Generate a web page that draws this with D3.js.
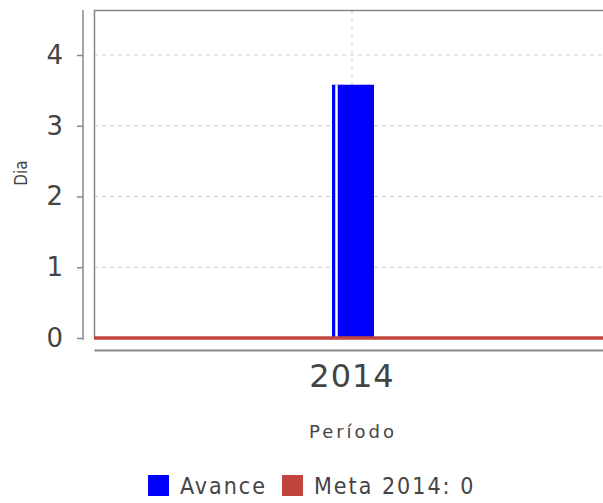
<!DOCTYPE html>
<html>
<head>
<meta charset="utf-8">
<script src="https://cdn.jsdelivr.net/npm/d3@7"></script>
<style>
  body { margin: 0; background: #fff; overflow: hidden; }
  svg { display: block; }
  text { font-family: "DejaVu Sans", sans-serif; fill: #444; }
  .cond { font-family: "DejaVu Sans Condensed", "DejaVu Sans", sans-serif; font-stretch: condensed; }
</style>
</head>
<body>
<div id="chart"></div>
<script>
// Data
var categories = ["2014"];
var avance = [3.58];
var meta = [0];
var yTicks = [0, 1, 2, 3, 4];
var legendLabels = ["Avance", "Meta 2014: 0"];
var colors = ["#0000ff", "#c0453f"];

var svgWidth = 603, svgHeight = 503;
var margin = { top: 10, left: 94, right: -7, bottom: 165 };
var width = svgWidth - margin.left - margin.right;
var height = svgHeight - margin.top - margin.bottom;

var svg = d3.select("#chart").append("svg")
  .attr("width", svgWidth)
  .attr("height", svgHeight);

var g = svg.append("g")
  .attr("transform", `translate(${margin.left}, ${margin.top})`);

var x = d3.scaleBand().domain(categories).range([0, width]);
var y = d3.scaleLinear().domain([0, 4.636]).range([height, 0]);

// gridlines
g.selectAll(".grid")
  .data(yTicks.slice(1))
  .enter().append("line")
  .attr("x1", 0).attr("x2", width)
  .attr("y1", d => y(d)).attr("y2", d => y(d))
  .attr("stroke", "#ccc").attr("stroke-dasharray", "4,4");

g.selectAll(".vgrid")
  .data(categories)
  .enter().append("line")
  .attr("x1", d => x(d) + x.bandwidth() / 2).attr("x2", d => x(d) + x.bandwidth() / 2)
  .attr("y1", 0).attr("y2", height)
  .attr("stroke", "#ccc").attr("stroke-dasharray", "4,4");

// plot border
g.append("line").attr("x1", 0).attr("x2", width).attr("y1", 0.5).attr("y2", 0.5)
  .attr("stroke", "#888").attr("stroke-width", 1.5);
g.append("line").attr("x1", 0.5).attr("x2", 0.5).attr("y1", 0).attr("y2", height)
  .attr("stroke", "#888").attr("stroke-width", 1.5);

// bars
var barW = 42;
g.selectAll(".bar")
  .data(avance)
  .enter().append("rect")
  .attr("x", (d, i) => x(categories[i]) + x.bandwidth() / 2 - 20)
  .attr("y", d => y(d))
  .attr("width", barW)
  .attr("height", d => y(0) - y(d))
  .attr("fill", colors[0]);

g.selectAll(".barGap")
  .data(avance)
  .enter().append("line")
  .attr("x1", (d, i) => x(categories[i]) + x.bandwidth() / 2 - 15.5)
  .attr("x2", (d, i) => x(categories[i]) + x.bandwidth() / 2 - 15.5)
  .attr("y1", d => y(d)).attr("y2", y(0))
  .attr("stroke", "#fff").attr("stroke-width", 2.5);

// meta line
g.selectAll(".meta")
  .data(meta)
  .enter().append("line")
  .attr("x1", 0).attr("x2", width)
  .attr("y1", d => y(d)).attr("y2", d => y(d))
  .attr("stroke", colors[1]).attr("stroke-width", 3.5);

// y axis
var yAxis = svg.append("g")
  .attr("transform", `translate(83, ${margin.top})`)
  .call(d3.axisLeft(y).tickValues(yTicks).tickSize(6).tickPadding(14).tickFormat(d3.format("d")));
yAxis.select(".domain").attr("stroke", "#888").attr("stroke-width", 1.5)
  .attr("d", `M0,0V${height + 2}`);
yAxis.selectAll(".tick line").attr("stroke", "#888").attr("stroke-width", 1.5);
yAxis.selectAll("text").style("font-size", "26px").attr("fill", "#444");

// x axis
var xAxis = svg.append("g")
  .attr("transform", `translate(${margin.left}, 350)`)
  .call(d3.axisBottom(x).tickSize(0).tickPadding(14));
xAxis.select(".domain").attr("stroke", "#888").attr("stroke-width", 2);
xAxis.selectAll("text").style("font-size", "32px").style("letter-spacing", "1px").attr("fill", "#444");

// axis labels
svg.append("text")
  .attr("x", 353).attr("y", 438)
  .attr("text-anchor", "middle")
  .style("font-size", "18px").style("letter-spacing", "3px")
  .text("Período");

svg.append("text")
  .attr("class", "cond")
  .attr("transform", "translate(27, 173) rotate(-90)")
  .attr("text-anchor", "middle")
  .style("font-size", "17px")
  .text("Dia");

// legend
var legendX = [148, 282];
var legend = svg.selectAll(".legend")
  .data(legendLabels)
  .enter().append("g")
  .attr("transform", (d, i) => `translate(${legendX[i]}, 475)`);
legend.append("rect")
  .attr("width", 21).attr("height", 21)
  .attr("fill", (d, i) => colors[i]);
legend.append("text")
  .attr("class", "cond")
  .attr("x", 32).attr("y", 19)
  .style("font-size", "23px").style("letter-spacing", "2px")
  .text(d => d);
</script>
</body>
</html>
